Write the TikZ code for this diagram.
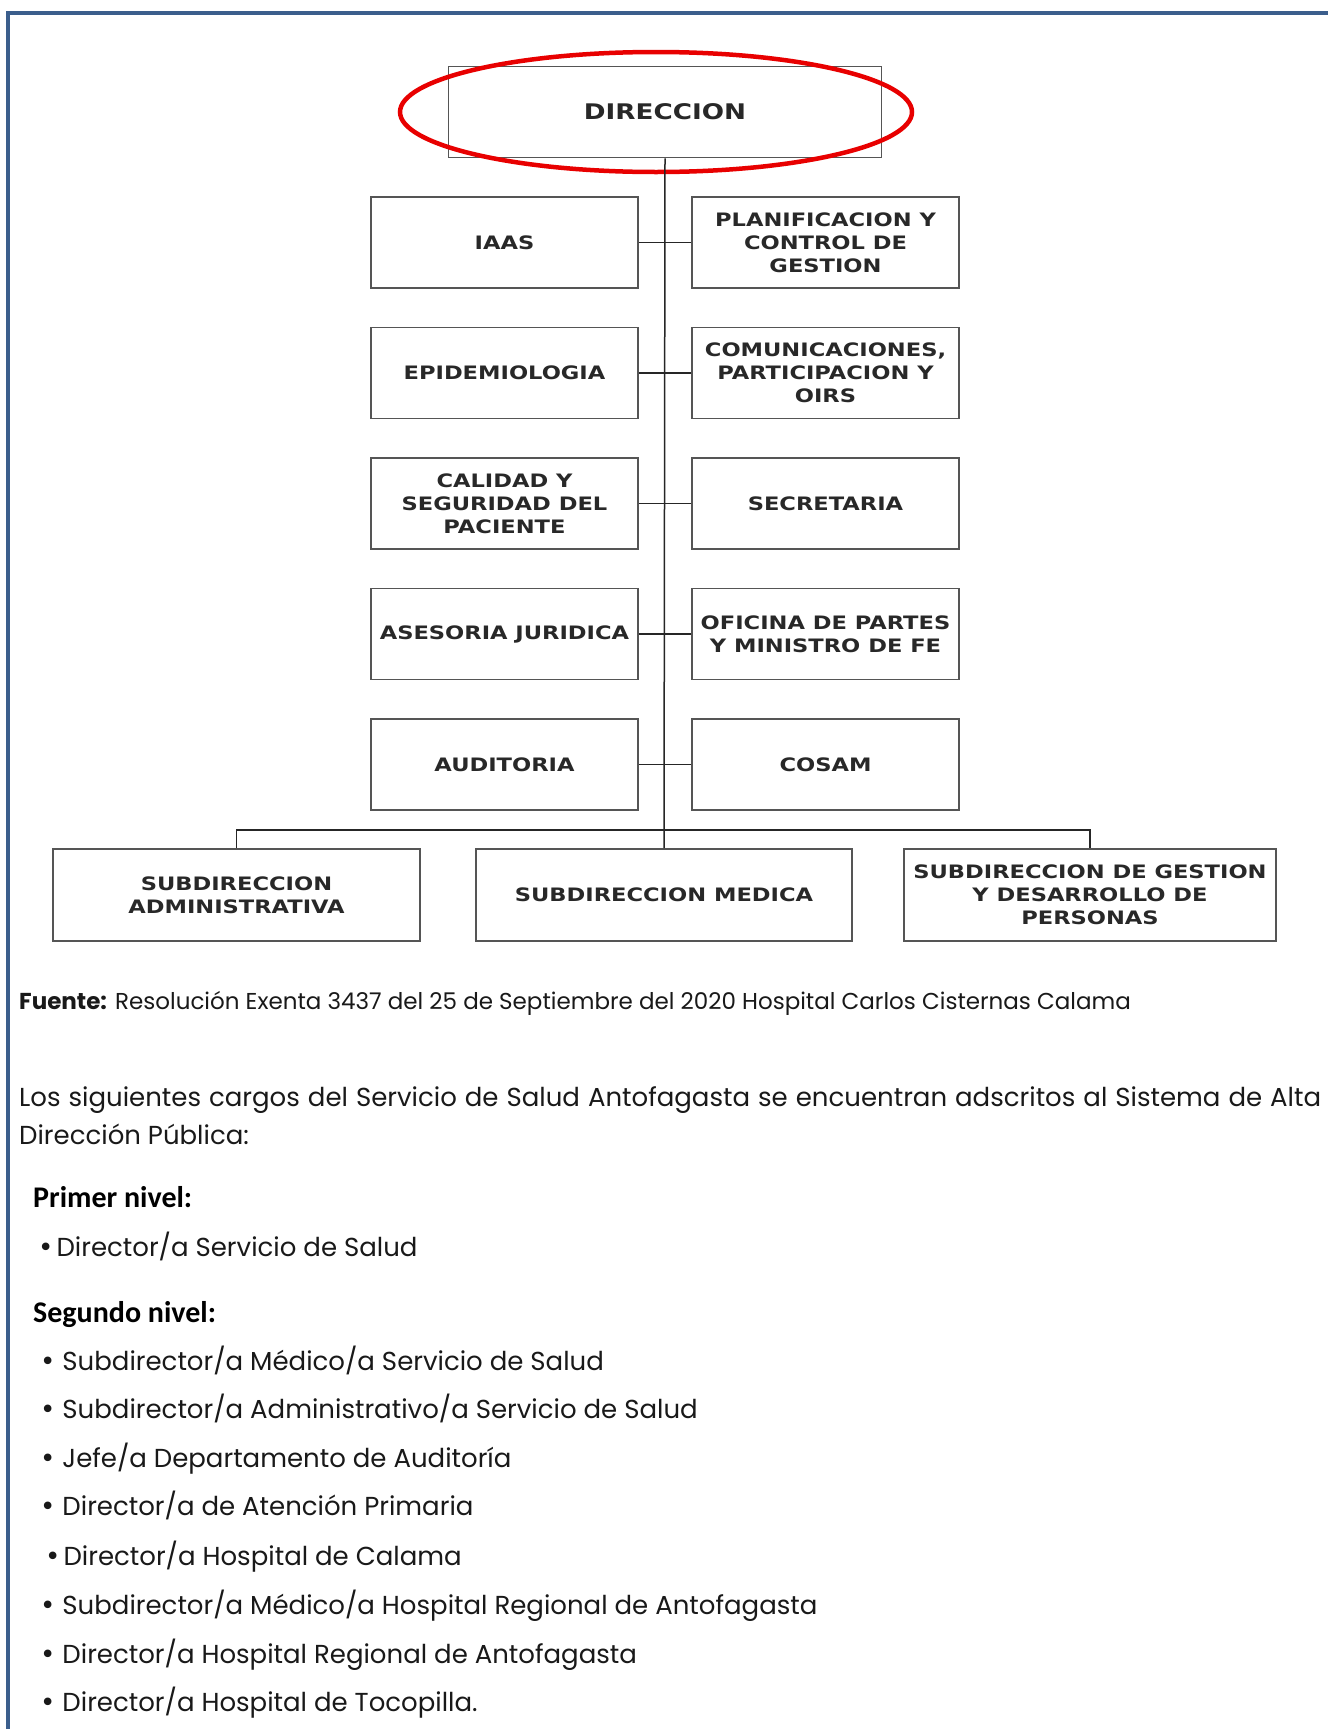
\documentclass[tikz,border=0pt]{standalone}
\usepackage{fontspec}
\usetikzlibrary{shapes.geometric}
\setmainfont{Poppins}
\newfontfamily\boxfont{DejaVu Sans}[FakeStretch=1.22]
\newfontfamily\headfont{Carlito}
\newfontfamily\bulfont{DejaVu Sans}
\newcommand\bul{{\bulfont •}}
\definecolor{framecol}{RGB}{59,94,140}
\definecolor{boxline}{RGB}{85,85,85}
\definecolor{ovalred}{RGB}{232,0,0}
\definecolor{boxtext}{RGB}{40,40,40}
\begin{document}
\begin{tikzpicture}[x=1pt,y=-1pt,
  orgbox/.style={draw=boxline, line width=1.6pt, rectangle, inner sep=0pt,
    align=center, text=boxtext,
    font=\boxfont\bfseries\fontsize{18.5}{23}\selectfont},
  sidebox/.style={orgbox, minimum width=267pt, minimum height=91pt},
  subbox/.style={orgbox, minimum height=92pt},
  link/.style={draw=black!85, line width=1.5pt},
  body/.style={anchor=base west, inner sep=0pt, text=black!90,
    font=\fontsize{26}{36}\selectfont},
  smallbody/.style={body, font=\fontsize{23}{30}\selectfont},
  heading/.style={anchor=base west, inner sep=0pt, text=black,
    font=\headfont\bfseries\fontsize{30}{34}\selectfont}]
\useasboundingbox (0,0) rectangle (1328,1729);
\fill[white] (0,0) rectangle (1328,1729);
% frame
\draw[framecol, line width=3.5pt] (8,1729) -- (8,13) -- (1328,13);

% top box and oval
\node[orgbox, minimum width=433pt, minimum height=91pt,
  font=\boxfont\bfseries\fontsize{21.5}{26}\selectfont] (dir) at (665,112) {DIRECCION};
\node[draw=ovalred, line width=4.5pt, ellipse, minimum width=512pt, minimum height=120pt] (oval) at (656,112) {};

% side boxes
\node[sidebox] (L1) at (504.5,242.5) {IAAS};
\node[sidebox] (R1) at (825.5,242.5) {PLANIFICACION Y\\CONTROL DE\\GESTION};
\node[sidebox] (L2) at (504.5,373) {EPIDEMIOLOGIA};
\node[sidebox] (R2) at (825.5,373) {COMUNICACIONES,\\PARTICIPACION Y\\OIRS};
\node[sidebox] (L3) at (504.5,503.5) {CALIDAD Y\\SEGURIDAD DEL\\PACIENTE};
\node[sidebox] (R3) at (825.5,503.5) {SECRETARIA};
\node[sidebox] (L4) at (504.5,634) {ASESORIA JURIDICA};
\node[sidebox] (R4) at (825.5,634) {OFICINA DE PARTES\\Y MINISTRO DE FE};
\node[sidebox] (L5) at (504.5,764.5) {AUDITORIA};
\node[sidebox] (R5) at (825.5,764.5) {COSAM};

% bottom boxes
\node[subbox, minimum width=367pt] (SA) at (236.5,895) {SUBDIRECCION\\ADMINISTRATIVA};
\node[subbox, minimum width=376pt] (SM) at (664,895) {SUBDIRECCION MEDICA};
\node[subbox, minimum width=372pt] (SG) at (1090,895) {SUBDIRECCION DE GESTION\\Y DESARROLLO DE\\PERSONAS};

% connectors
\coordinate (bus) at (664,830);
\draw[link] (dir.south) -- (SM.north);
\draw[link] (L1.east) -- (R1.west);
\draw[link] (L2.east) -- (R2.west);
\draw[link] (L3.east) -- (R3.west);
\draw[link] (L4.east) -- (R4.west);
\draw[link] (L5.east) -- (R5.west);
\draw[link] (SA.north) |- (bus) -| (SG.north);

% texts
\node[smallbody] (src) at (19,1009) {{\bfseries Fuente:} Resolución Exenta 3437 del 25 de Septiembre del 2020 Hospital Carlos Cisternas Calama};
\node[body] (p1) at (19,1106) {\makebox[1302pt][s]{Los siguientes cargos del Servicio de Salud Antofagasta se encuentran adscritos al Sistema de Alta}};
\node[body] (p2) at (19,1144) {Dirección Pública:};
\node[heading] (h1) at (33,1207) {Primer nivel:};
\node[body] (i0) at (38,1256) {\bul\hspace{3pt}Director/a Servicio de Salud};
\node[heading] (h2) at (33,1322) {Segundo nivel:};
\node[body] (i1) at (40,1370) {\bul\ Subdirector/a Médico/a Servicio de Salud};
\node[body] (i2) at (40,1418) {\bul\ Subdirector/a Administrativo/a Servicio de Salud};
\node[body] (i3) at (40,1467) {\bul\ Jefe/a Departamento de Auditoría};
\node[body] (i4) at (40,1515) {\bul\ Director/a de Atención Primaria};
\node[body] (i5) at (45,1565) {\bul\hspace{3pt}Director/a Hospital de Calama};
\node[body] (i6) at (40,1614) {\bul\ Subdirector/a Médico/a Hospital Regional de Antofagasta};
\node[body] (i7) at (40,1663) {\bul\ Director/a Hospital Regional de Antofagasta};
\node[body] (i8) at (40,1711) {\bul\ Director/a Hospital de Tocopilla.};
\end{tikzpicture}
\end{document}
